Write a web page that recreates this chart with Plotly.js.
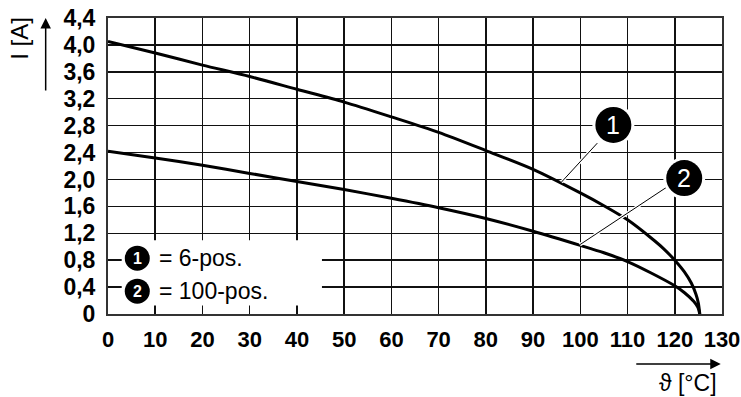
<!DOCTYPE html>
<html>
<head>
<meta charset="utf-8">
<script src="https://cdn.plot.ly/plotly-3.0.1.min.js"></script>
<style>html,body{margin:0;padding:0;background:#fff;}#chart{width:741px;height:397px;}</style>
</head>
<body>
<div id="chart"></div>
<script>
// Data
const temp6pos = [0,10,20,30,40,50,60,70,80,90,100,105,110,115,117.5,120,122,123.5,124.5,125,125.3];
const current6pos = [4.05,3.88,3.70,3.53,3.34,3.15,2.93,2.70,2.43,2.15,1.80,1.61,1.40,1.13,0.98,0.80,0.63,0.46,0.29,0.16,0];
const temp100pos = [0,10,20,30,40,50,60,70,80,90,100,105,110,115,120,122,124,124.9,125.3];
const current100pos = [2.42,2.32,2.21,2.09,1.97,1.85,1.72,1.58,1.42,1.23,1.02,0.91,0.78,0.61,0.42,0.32,0.19,0.10,0];
const xTickVals = [0,10,20,30,40,50,60,70,80,90,100,110,120,130];
const xTickText = ["0","10","20","30","40","50","60","70","80","90","100","110","120","130"];
const yTickVals = [0,0.4,0.8,1.2,1.6,2.0,2.4,2.8,3.2,3.6,4.0,4.4];
const yTickText = ["0","0,4","0,8","1,2","1,6","2,0","2,4","2,8","3,2","3,6","4,0","4,4"];
const seriesLabels = ["1","2"];
const seriesNames = ["= 6-pos.","= 100-pos."];

const FONT = "Liberation Sans, Arial, Helvetica, sans-serif";

const traces = [
  {x: temp6pos, y: current6pos, mode: "lines", line: {color: "#000", width: 3, shape: "spline", smoothing: 0.8}, hoverinfo: "skip"},
  {x: temp100pos, y: current100pos, mode: "lines", line: {color: "#000", width: 3, shape: "spline", smoothing: 0.8}, hoverinfo: "skip"}
];

function circle(xa, ya, r, fill, layer) {
  return {type: "circle", xref: "x", yref: "y", xsizemode: "pixel", ysizemode: "pixel",
    xanchor: xa, yanchor: ya, x0: -r, x1: r, y0: -r, y1: r,
    fillcolor: fill, line: {width: 0}, layer: layer || "above"};
}
function seg(x0, y0, x1, y1, color, width, layer) {
  return {type: "line", xref: "x", yref: "y", x0: x0, y0: y0, x1: x1, y1: y1,
    line: {color: color, width: width}, layer: layer || "above"};
}

const shapes = [
  // legend box (hides grid)
  {type: "rect", xref: "x", yref: "y", x0: 2.9, x1: 45.3, y0: 0.125, y1: 1.095,
   fillcolor: "#fff", line: {width: 0}, layer: "above"},
  // leader lines (white halo + black line)
  seg(103.6, 2.54, 96.0, 1.96, "#fff", 3.5),
  seg(103.6, 2.54, 96.0, 1.96, "#000", 1),
  seg(118.4, 1.89, 99.9, 1.03, "#fff", 3.5),
  seg(118.4, 1.89, 99.9, 1.03, "#000", 1),
  // callout circles
  circle(107.0, 2.81, 21, "#fff"),
  circle(107.0, 2.81, 18, "#000"),
  circle(122.0, 2.02, 21, "#fff"),
  circle(122.0, 2.02, 18, "#000"),
  // legend circles
  circle(6.2, 0.83, 12.5, "#000"),
  circle(6.2, 0.34, 12.5, "#000")
];

const annotations = [
  // callout numbers
  {x: 107.0, y: 2.81, xref: "x", yref: "y", text: seriesLabels[0], showarrow: false,
   font: {family: FONT, size: 25, color: "#fff"}},
  {x: 122.0, y: 2.02, xref: "x", yref: "y", text: seriesLabels[1], showarrow: false,
   font: {family: FONT, size: 25, color: "#fff"}},
  // legend numbers
  {x: 6.2, y: 0.83, xref: "x", yref: "y", text: "<b>" + seriesLabels[0] + "</b>", showarrow: false,
   font: {family: FONT, size: 16, color: "#fff"}},
  {x: 6.2, y: 0.34, xref: "x", yref: "y", text: "<b>" + seriesLabels[1] + "</b>", showarrow: false,
   font: {family: FONT, size: 16, color: "#fff"}},
  // legend texts
  {x: 10.3, y: 0.83, xref: "x", yref: "y", xanchor: "left", text: seriesNames[0], showarrow: false,
   font: {family: FONT, size: 23, color: "#000"}},
  {x: 10.3, y: 0.34, xref: "x", yref: "y", xanchor: "left", text: seriesNames[1], showarrow: false,
   font: {family: FONT, size: 23, color: "#000"}},
  // y axis title and arrow
  {x: -0.144, y: 0.932, xref: "paper", yref: "paper", xanchor: "center", yanchor: "middle",
   text: "I [A]", textangle: -90, showarrow: false,
   font: {family: FONT, size: 24, color: "#000"}},
  {x: -0.1015, y: 1.0, xref: "paper", yref: "paper", text: "", showarrow: true,
   ax: 0, ay: 74, arrowhead: 2, arrowsize: 1.4, arrowwidth: 1.5, arrowcolor: "#000"},
  // x axis title and arrow
  {x: 0.9446, y: -0.233, xref: "paper", yref: "paper", xanchor: "center", yanchor: "middle",
   text: "ϑ [°C]", showarrow: false,
   font: {family: FONT, size: 23, color: "#000"}},
  {x: 0.998, y: -0.169, xref: "paper", yref: "paper", text: "", showarrow: true,
   ax: -86, ay: 0, arrowhead: 2, arrowsize: 1.4, arrowwidth: 1.5, arrowcolor: "#000"}
];

const layout = {
  width: 741, height: 397,
  margin: {l: 108, r: 19, t: 18, b: 83},
  paper_bgcolor: "#fff", plot_bgcolor: "#fff",
  showlegend: false,
  xaxis: {
    range: [0, 130], tickvals: xTickVals, ticktext: xTickText,
    showgrid: true, gridcolor: "#111", gridwidth: 1.5,
    showline: true, linecolor: "#333", linewidth: 2, mirror: true,
    zeroline: false, ticks: "", ticklabelstandoff: 5, ticklabeloverflow: "allow",
    tickfont: {family: FONT, size: 22, color: "#000", weight: "bold"}
  },
  yaxis: {
    range: [0, 4.4], tickvals: yTickVals, ticktext: yTickText,
    showgrid: true, gridcolor: "#111", gridwidth: 1.5,
    showline: true, linecolor: "#333", linewidth: 2, mirror: true,
    zeroline: false, ticks: "", ticklabelstandoff: 6, ticklabeloverflow: "allow",
    tickfont: {family: FONT, size: 23, color: "#000", weight: "bold"}
  },
  shapes: shapes,
  annotations: annotations
};

Plotly.newPlot("chart", traces, layout, {staticPlot: true, displayModeBar: false});
</script>
</body>
</html>
